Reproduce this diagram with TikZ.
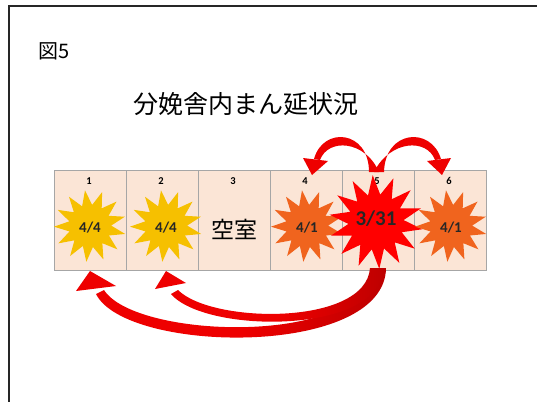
\documentclass[tikz,border=0pt]{standalone}
\usepackage{fontspec}
\newfontfamily\jpfont{Noto Sans CJK JP}
\newfontfamily\carfont{Carlito}[BoldFont={* Bold}]
\usetikzlibrary{shapes.geometric}
\definecolor{cellfill}{HTML}{FBE5D6}
\definecolor{cellline}{HTML}{A6A6A6}
\definecolor{sunyellow}{HTML}{F6C000}
\definecolor{sunorange}{HTML}{F0641E}
\definecolor{arrred}{HTML}{EE0000}
\definecolor{arrdark}{HTML}{BB0000}
\tikzset{
  cell/.style={draw=cellline, line width=0.8pt, fill=cellfill, minimum width=72pt, minimum height=100pt, inner sep=0pt},
  cellnum/.style={font=\carfont\bfseries\fontsize{10.5}{10.5}\selectfont, inner sep=0pt},
  burst/.style={star, star points=13, star point ratio=1.7, inner sep=0pt, draw=none},
  bursttext/.style={font=\carfont\bfseries\fontsize{15}{15}\selectfont, text=black!85},
  arrowfill/.style={fill=arrred, draw=none},
}
\begin{document}
\begin{tikzpicture}[x=1pt,y=-1pt]
\useasboundingbox (0,0) rectangle (537,401);
\fill[white] (0,0) rectangle (537,401);
% frame
\draw[line width=2pt, black!85] (9,402) -- (9,6) -- (538,6);
% titles
\node[font=\jpfont\fontsize{20}{20}\selectfont, anchor=west, inner sep=0pt] (fig) at (38,51) {図5};
\node[font=\jpfont\fontsize{25}{25}\selectfont, inner sep=0pt] (title) at (246,104) {分娩舎内まん延状況};
% cells
\foreach \i/\x in {1/90,2/162,3/234,4/306,5/378,6/450} {
  \node[cell] (c\i) at (\x,220) {};
  \node[cellnum] (n\i) at (\x-1,181) {\i};
}
% bursts
\node[burst, fill=sunyellow, minimum size=72pt, rotate=8] (s1) at (90,226) {};
\node[bursttext] (t1) at (90,228) {4/4};
\node[burst, fill=sunyellow, minimum size=72pt, rotate=8] (s2) at (166,226) {};
\node[bursttext] (t2) at (166,228) {4/4};
\node[font=\jpfont\fontsize{23}{23}\selectfont, inner sep=0pt] (t3) at (234,229) {空室};
\node[burst, fill=sunorange, minimum size=72pt, rotate=8] (s4) at (307,226) {};
\node[bursttext] (t4) at (307,228) {4/1};
\node[burst, fill=red, minimum size=94pt, star points=14, rotate=4] (s5) at (376,222) {};
\node[bursttext, font=\carfont\bfseries\fontsize{21}{21}\selectfont] (t5) at (376,219) {3/31};
\node[burst, fill=sunorange, minimum size=72pt, rotate=8] (s6) at (451,226) {};
\node[bursttext] (t6) at (451,228) {4/1};
% top arrows (from cell 5 to 4 and 6)
\fill[arrowfill] (369,172) .. controls (369,130) and (323,126) .. (314,159)
  -- (320,160) .. controls (328,138) and (365,140) .. (379,172) -- cycle;
\fill[arrowfill] (303,158) -- (312,175) -- (328,161) -- cycle;
\fill[arrowfill] (384,172) .. controls (385,130) and (431,126) .. (441,159)
  -- (435,160) .. controls (427,138) and (390,140) .. (374,172) -- cycle;
\fill[arrowfill] (427,161) -- (442,175) -- (451,158) -- cycle;
% bottom arrow to cell 1 (shaded darker toward its source)
\begin{scope}
\clip (386,268) .. controls (385,358) and (126,354) .. (96,294)
  -- (104,290) .. controls (136,340) and (368,346) .. (371,268) -- cycle;
\shade[left color=arrred, right color=arrdark, middle color=arrred] (90,260) rectangle (392,350);
\end{scope}
\fill[arrowfill] (76,291) -- (90,271) -- (116,286) -- cycle;
% bottom arrow to cell 2
\begin{scope}
\clip (383,268) .. controls (382,335) and (205,334) .. (171,294)
  -- (178,290) .. controls (212,324) and (366,326) .. (370,268) -- cycle;
\shade[left color=arrred, right color=arrdark, middle color=arrred] (165,260) rectangle (392,340);
\end{scope}
\fill[arrowfill] (155,289) -- (166,271) -- (186,283) -- cycle;
\end{tikzpicture}
\end{document}
